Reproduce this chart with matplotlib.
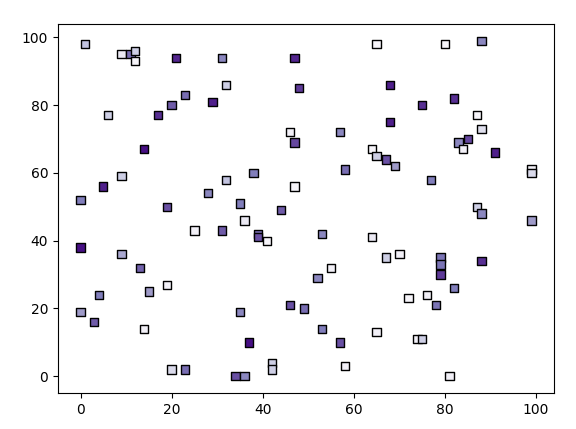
import matplotlib
matplotlib.use("Agg")
import matplotlib.pyplot as plt
import numpy as np

# point positions
x = [1, 9, 11, 12, 12, 21, 31, 47, 65, 80, 88,
     6, 17, 20, 23, 29, 32, 48, 68, 68, 75, 82, 87, 88, 85, 83, 84, 91,
     14, 5, 9, 0, 19, 32, 28, 38, 35, 36, 25, 31, 39, 39, 41, 44,
     46, 47, 47, 57, 58, 64, 65, 67, 69, 77, 99, 99, 87, 88, 99,
     0, 9, 13, 19, 15, 4, 0, 3, 14, 20, 23,
     53, 55, 52, 64, 67, 70, 79, 79, 79, 78, 82, 88, 72, 76, 74, 75, 81,
     35, 46, 49, 53, 57, 37, 42, 42, 34, 36, 58, 65]
y = [98, 95, 95, 96, 93, 94, 94, 94, 98, 98, 99,
     77, 77, 80, 83, 81, 86, 85, 86, 75, 80, 82, 77, 73, 70, 69, 67, 66,
     67, 56, 59, 52, 50, 58, 54, 60, 51, 46, 43, 43, 42, 41, 40, 49,
     72, 69, 56, 72, 61, 67, 65, 64, 62, 58, 61, 60, 50, 48, 46,
     38, 36, 32, 27, 25, 24, 19, 16, 14, 2, 2,
     42, 32, 29, 41, 35, 36, 35, 33, 30, 21, 26, 34, 23, 24, 11, 11, 0,
     19, 21, 20, 14, 10, 10, 4, 2, 0, 0, 3, 13]
# colour value (0 = white, 1 = darkest purple)
c = [0.35, 0.15, 0.67, 0.3, 0.06, 0.88, 0.58, 0.88, 0.06, 0.06, 0.58,
     0.3, 0.85, 0.72, 0.67, 0.9, 0.3, 0.82, 0.9, 0.9, 0.85, 0.85, 0.06, 0.22, 0.78, 0.58, 0.1, 0.9,
     0.95, 0.9, 0.3, 0.62, 0.75, 0.35, 0.58, 0.62, 0.62, 0.15, 0.1, 0.72, 0.67, 0.75, 0.06, 0.72,
     0.1, 0.78, 0.06, 0.58, 0.67, 0.06, 0.3, 0.75, 0.5, 0.62, 0.12, 0.25, 0.3, 0.58, 0.5,
     0.95, 0.45, 0.7, 0.1, 0.5, 0.62, 0.5, 0.72, 0.1, 0.25, 0.67,
     0.58, 0.1, 0.58, 0.15, 0.3, 0.1, 0.65, 0.65, 0.82, 0.65, 0.62, 0.85, 0.06, 0.12, 0.1, 0.3, 0.1,
     0.58, 0.75, 0.67, 0.62, 0.75, 0.95, 0.3, 0.3, 0.75, 0.58, 0.1, 0.1]

fig = plt.figure(figsize=(5.76, 4.29), dpi=100)
ax = fig.add_axes([58 / 576, 1 - 393 / 429, 496 / 576, 369 / 429])
ax.scatter(x, y, c=c, cmap="Purples", vmin=0, vmax=1, marker="s",
           edgecolors="black")
ax.set_xticks([0, 20, 40, 60, 80, 100])
ax.set_yticks([0, 20, 40, 60, 80, 100])

fig.savefig("out.png", dpi=100)
